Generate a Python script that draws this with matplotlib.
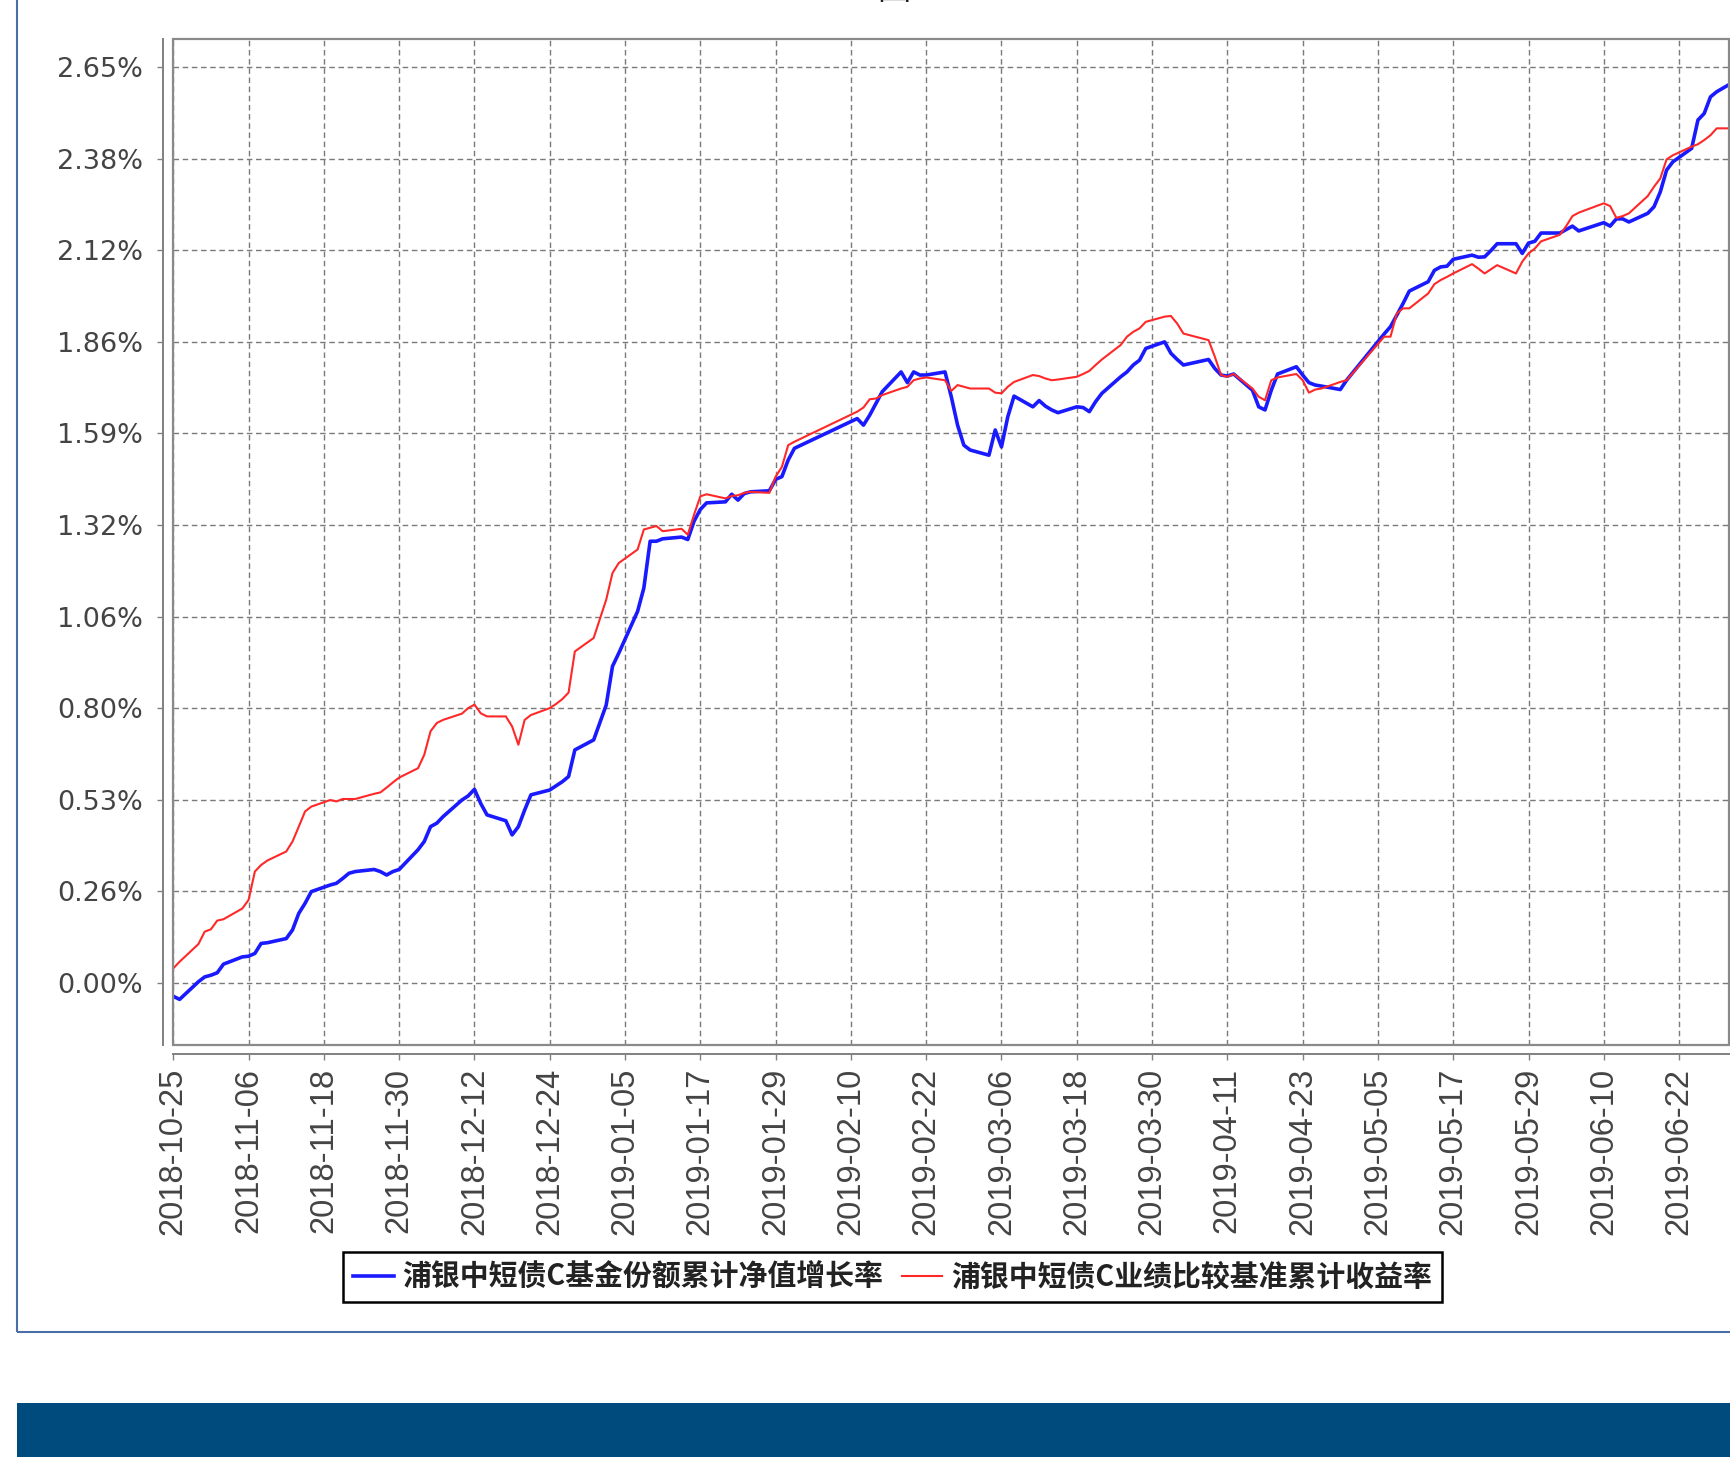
import matplotlib
matplotlib.use("Agg")
import matplotlib.pyplot as plt
from matplotlib.patches import Rectangle
from matplotlib.font_manager import FontProperties
import pandas as pd

# trading days
dates = [
    "2018-10-25", "2018-10-26", "2018-10-29", "2018-10-30", "2018-10-31", "2018-11-01", "2018-11-02",
    "2018-11-05", "2018-11-06", "2018-11-07", "2018-11-08", "2018-11-09", "2018-11-12", "2018-11-13",
    "2018-11-14", "2018-11-15", "2018-11-16", "2018-11-19", "2018-11-20", "2018-11-21", "2018-11-22",
    "2018-11-23", "2018-11-26", "2018-11-27", "2018-11-28", "2018-11-29", "2018-11-30", "2018-12-03",
    "2018-12-04", "2018-12-05", "2018-12-06", "2018-12-07", "2018-12-10", "2018-12-11", "2018-12-12",
    "2018-12-13", "2018-12-14", "2018-12-17", "2018-12-18", "2018-12-19", "2018-12-20", "2018-12-21",
    "2018-12-24", "2018-12-25", "2018-12-26", "2018-12-27", "2018-12-28", "2018-12-31", "2019-01-02",
    "2019-01-03", "2019-01-04", "2019-01-07", "2019-01-08", "2019-01-09", "2019-01-10", "2019-01-11",
    "2019-01-14", "2019-01-15", "2019-01-16", "2019-01-17", "2019-01-18", "2019-01-21", "2019-01-22",
    "2019-01-23", "2019-01-24", "2019-01-25", "2019-01-28", "2019-01-29", "2019-01-30", "2019-01-31",
    "2019-02-01", "2019-02-11", "2019-02-12", "2019-02-13", "2019-02-14", "2019-02-15", "2019-02-18",
    "2019-02-19", "2019-02-20", "2019-02-21", "2019-02-22", "2019-02-25", "2019-02-26", "2019-02-27",
    "2019-02-28", "2019-03-01", "2019-03-04", "2019-03-05", "2019-03-06", "2019-03-07", "2019-03-08",
    "2019-03-11", "2019-03-12", "2019-03-13", "2019-03-14", "2019-03-15", "2019-03-18", "2019-03-19",
    "2019-03-20", "2019-03-21", "2019-03-22", "2019-03-25", "2019-03-26", "2019-03-27", "2019-03-28",
    "2019-03-29", "2019-04-01", "2019-04-02", "2019-04-03", "2019-04-04", "2019-04-08", "2019-04-09",
    "2019-04-10", "2019-04-11", "2019-04-12", "2019-04-15", "2019-04-16", "2019-04-17", "2019-04-18",
    "2019-04-19", "2019-04-22", "2019-04-23", "2019-04-24", "2019-04-25", "2019-04-26", "2019-04-29",
    "2019-04-30", "2019-05-06", "2019-05-07", "2019-05-08", "2019-05-09", "2019-05-10", "2019-05-13",
    "2019-05-14", "2019-05-15", "2019-05-16", "2019-05-17", "2019-05-20", "2019-05-21", "2019-05-22",
    "2019-05-23", "2019-05-24", "2019-05-27", "2019-05-28", "2019-05-29", "2019-05-30", "2019-05-31",
    "2019-06-03", "2019-06-04", "2019-06-05", "2019-06-06", "2019-06-10", "2019-06-11", "2019-06-12",
    "2019-06-13", "2019-06-14", "2019-06-17", "2019-06-18", "2019-06-19", "2019-06-20", "2019-06-21",
    "2019-06-24", "2019-06-25", "2019-06-26", "2019-06-27", "2019-06-28", "2019-06-30",
]

# cumulative NAV growth of the fund (%)
fund_growth = [
    -0.039, -0.048, 0.003, 0.017, 0.022, 0.029, 0.054,
    0.075, 0.077, 0.085, 0.114, 0.116, 0.128, 0.153,
    0.201, 0.230, 0.264, 0.283, 0.288, 0.302, 0.317,
    0.322, 0.328, 0.322, 0.312, 0.322, 0.328, 0.385,
    0.409, 0.452, 0.462, 0.481, 0.529, 0.541, 0.560,
    0.519, 0.486, 0.469, 0.428, 0.452, 0.500, 0.544,
    0.558, 0.570, 0.582, 0.597, 0.674, 0.703, 0.804,
    0.916, 0.954, 1.075, 1.143, 1.278, 1.278, 1.285,
    1.290, 1.283, 1.336, 1.370, 1.389, 1.392, 1.414,
    1.397, 1.416, 1.421, 1.424, 1.457, 1.465, 1.513,
    1.547, 1.633, 1.614, 1.643, 1.677, 1.711, 1.768,
    1.737, 1.768, 1.759, 1.759, 1.768, 1.696, 1.614,
    1.556, 1.542, 1.527, 1.600, 1.551, 1.638, 1.698,
    1.667, 1.685, 1.669, 1.658, 1.650, 1.667, 1.665,
    1.653, 1.682, 1.706, 1.754, 1.768, 1.788, 1.802,
    1.836, 1.855, 1.822, 1.804, 1.788, 1.804, 1.778,
    1.759, 1.756, 1.762, 1.715, 1.667, 1.658, 1.715,
    1.762, 1.783, 1.759, 1.737, 1.730, 1.727, 1.717,
    1.744, 1.878, 1.899, 1.932, 1.966, 2.002, 2.029,
    2.062, 2.072, 2.074, 2.094, 2.106, 2.100, 2.101,
    2.119, 2.139, 2.139, 2.111, 2.141, 2.146, 2.170,
    2.170, 2.180, 2.190, 2.176, 2.200, 2.190, 2.211,
    2.211, 2.202, 2.227, 2.246, 2.289, 2.352, 2.376,
    2.415, 2.497, 2.516, 2.564, 2.579, 2.600,
]

# cumulative benchmark return (%)
benchmark_return = [
    0.042, 0.061, 0.112, 0.148, 0.155, 0.180, 0.184,
    0.215, 0.240, 0.322, 0.341, 0.354, 0.380, 0.409,
    0.452, 0.496, 0.510, 0.529, 0.525, 0.532, 0.532,
    0.532, 0.547, 0.551, 0.565, 0.580, 0.594, 0.621,
    0.660, 0.728, 0.752, 0.761, 0.779, 0.795, 0.805,
    0.780, 0.771, 0.771, 0.742, 0.689, 0.761, 0.775,
    0.795, 0.807, 0.821, 0.840, 0.959, 0.998, 1.109,
    1.186, 1.215, 1.254, 1.312, 1.317, 1.322, 1.307,
    1.314, 1.297, 1.355, 1.408, 1.414, 1.402, 1.409,
    1.411, 1.418, 1.421, 1.418, 1.465, 1.493, 1.556,
    1.566, 1.653, 1.665, 1.689, 1.691, 1.701, 1.720,
    1.725, 1.744, 1.749, 1.752, 1.744, 1.713, 1.730,
    1.725, 1.720, 1.720, 1.708, 1.706, 1.725, 1.739,
    1.759, 1.756, 1.749, 1.744, 1.746, 1.754, 1.762,
    1.771, 1.788, 1.804, 1.846, 1.870, 1.884, 1.894,
    1.913, 1.928, 1.930, 1.908, 1.879, 1.860, 1.812,
    1.759, 1.754, 1.762, 1.720, 1.696, 1.686, 1.744,
    1.752, 1.762, 1.744, 1.708, 1.717, 1.720, 1.739,
    1.744, 1.870, 1.870, 1.937, 1.952, 1.952, 1.995,
    2.022, 2.034, 2.043, 2.053, 2.080, 2.067, 2.053,
    2.065, 2.077, 2.053, 2.087, 2.111, 2.125, 2.146,
    2.165, 2.190, 2.219, 2.229, 2.256, 2.248, 2.214,
    2.219, 2.227, 2.277, 2.304, 2.328, 2.383, 2.395,
    2.420, 2.427, 2.439, 2.453, 2.473, 2.473,
]

series_names = ["浦银中短债C基金份额累计净值增长率", "浦银中短债C业绩比较基准累计收益率"]
y_ticks = [0.0, 0.265, 0.53, 0.795, 1.06, 1.325, 1.59, 1.855, 2.12, 2.385, 2.65]
y_labels = ["0.00%", "0.26%", "0.53%", "0.80%", "1.06%", "1.32%", "1.59%", "1.86%", "2.12%", "2.38%", "2.65%"]
tick_dates = pd.date_range("2018-10-25", "2019-06-22", freq="12D")

W, H = 1730, 1457
fig = plt.figure(figsize=(W / 100, H / 100), dpi=100)
fig.patch.set_facecolor("white")

# plot area (right border sits right at the cropped edge)
ax = fig.add_axes([173.3 / W, (H - 1045) / H, 1556 / W, (1045 - 38.5) / H])
x = pd.to_datetime(dates)
l1, = ax.plot(x, fund_growth, color="#1a1aff", lw=2.6, solid_joinstyle="round")
l2, = ax.plot(x, benchmark_return, color="#ff2828", lw=1.5, solid_joinstyle="round")

ax.set_xlim(x[0], x[-1])
ax.set_ylim(-0.180, 2.733)

for side in ["top", "right"]:
    ax.spines[side].set_visible(False)
ax.spines["left"].set_position(("outward", 7.6))
ax.spines["bottom"].set_position(("outward", 6.5))
for side in ["left", "bottom"]:
    ax.spines[side].set_color("#808080")
    ax.spines[side].set_linewidth(1.4)
ax.tick_params(axis="y", direction="out", length=4, width=1, color="#808080", pad=10)
ax.tick_params(axis="x", direction="out", length=4, width=1, color="#808080", pad=6)

ax.set_xticks(tick_dates)
ax.set_xticklabels([d.strftime("%Y-%m-%d") for d in tick_dates])
ax.set_yticks(y_ticks)
ax.set_yticklabels(y_labels)
for t in ax.get_xticklabels():
    t.set_rotation(90)
    t.set_fontfamily("Liberation Sans")
    t.set_fontsize(23.5)
    t.set_color("#444444")
for t in ax.get_yticklabels():
    t.set_fontfamily("DejaVu Sans")
    t.set_fontsize(19.5)
    t.set_color("#444444")

ax.grid(True, color="#7a7a7a", linestyle=(0, (4, 2.6)), lw=1.0)
ax.set_axisbelow(True)

# plot border
ax.add_patch(Rectangle((0, 0), 1, 1, transform=ax.transAxes, fill=False,
                       edgecolor="#8a8a8a", lw=1.6, clip_on=False, zorder=5))

leg = fig.legend([l1, l2], series_names, loc="center", bbox_to_anchor=(0.5159, 0.1235), ncol=2,
                 frameon=True, fancybox=False, edgecolor="black", framealpha=1,
                 prop=FontProperties(family=["Noto Sans CJK SC", "DejaVu Sans"], size=20.8, weight="bold"),
                 handlelength=1.4, handletextpad=0.3, columnspacing=0.65, borderpad=0.35)
leg.get_frame().set_linewidth(1.8)
for t in leg.get_texts():
    t.set_color("#222222")

# cut-off title glyph at the top
fig.text(894 / W, 1 - 7 / H, "图", ha="center", va="bottom", fontsize=24,
         family=["Noto Sans CJK SC", "DejaVu Sans"], color="#222222")

# outer page frame and bottom band
fig.patches.append(Rectangle((16.5 / W, (H - 1332) / H), 1.0, 1.0, transform=fig.transFigure,
                             fill=False, edgecolor="#4a6ea8", lw=1.5))
fig.patches.append(Rectangle((16.5 / W, 0), 1.0, (H - 1403) / H, transform=fig.transFigure,
                             facecolor="#004b7d", edgecolor="none"))

fig.savefig("out.png", dpi=100)
